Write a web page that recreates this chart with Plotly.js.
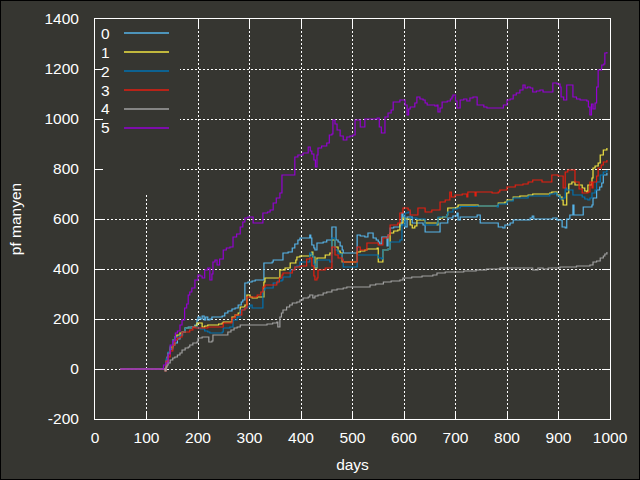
<!DOCTYPE html>
<html>
<head>
<meta charset="utf-8">
<script src="https://cdn.plot.ly/plotly-3.0.1.min.js"></script>
<style>
html,body{margin:0;padding:0;background:#000;}
#chart{width:638px;height:478px;border:1px solid #000;}
</style>
</head>
<body>
<div id="chart"></div>
<script>
// ---- data ----
const seriesNames = ["0","1","2","3","4","5"];
const seriesColors = ["#56b4e9","#f0e442","#0072b2","#e51e10","#a0a0a0","#9400d3"];

const days0 = [49,136,138,140,142,146,151,155,160,165,170,175,181,194,198,200,204,208,212,215,219,223,227,247,252,258,266,272,278,284,287,291,297,305,311,326,328,344,346,363,365,375,383,388,394,398,417,419,421,425,427,431,443,450,456,460,466,468,472,476,480,482,505,509,515,524,530,538,540,546,550,553,557,563,567,569,573,580,592,596,598,602,606,612,616,625,637,641,666,670,683,685,695,703,705,709,742,748,781,783,792,796,806,812,845,849,852,889,897,907,913,916,922,928,930,946,948,965,967,974,980,984,987,994];
const vals0 = [0,0,32,48,64,80,96,104,120,136,148,164,168,176,196,208,200,212,196,208,196,200,208,212,224,232,240,244,256,268,276,344,348,352,356,356,424,428,436,436,464,468,484,500,516,524,536,524,496,484,476,504,508,516,516,568,568,516,508,492,476,464,464,536,532,528,544,544,524,516,508,500,528,528,492,536,564,568,576,624,608,568,608,608,584,584,576,548,548,584,584,604,612,624,596,608,616,584,584,568,564,576,584,596,604,612,600,604,596,568,564,600,616,656,616,616,648,656,684,716,728,744,776,784];

const days1 = [49,136,138,142,146,151,155,159,165,169,175,188,194,198,204,208,213,219,223,240,247,249,262,266,272,278,282,291,295,301,305,311,315,326,328,330,355,359,369,379,390,392,398,417,421,423,427,431,443,447,456,460,466,472,476,480,505,509,515,524,528,548,550,557,559,569,573,580,588,592,598,602,608,612,616,621,625,637,641,664,666,675,683,685,703,705,742,744,781,783,796,800,812,825,841,850,883,887,893,897,903,907,909,913,916,920,926,932,942,946,951,955,957,965,967,971,977,981,987,994];
const vals1 = [0,0,24,64,88,116,128,136,144,148,164,168,172,184,184,168,172,176,176,180,184,188,188,208,216,224,248,256,296,288,284,284,288,288,348,364,364,396,404,424,436,448,452,456,468,448,404,444,444,456,464,516,488,472,464,428,428,468,472,476,480,484,428,428,476,480,544,552,556,584,604,600,600,576,564,572,596,596,584,576,604,608,616,644,648,656,656,652,652,664,668,676,688,692,696,700,704,708,708,696,688,676,656,656,704,740,748,736,736,724,712,708,736,764,804,812,824,856,876,884];

const days2 = [49,136,138,142,146,151,155,165,169,175,188,194,198,204,213,219,223,240,247,249,262,268,276,282,291,295,301,305,324,326,330,344,346,355,363,365,375,379,388,392,398,417,421,425,427,431,456,460,466,472,480,482,505,509,548,550,557,559,569,573,592,596,602,608,612,621,625,637,641,664,666,683,685,695,703,709,742,781,783,800,812,841,883,893,897,903,909,913,916,926,928,942,946,951,957,961,965,971,974,981,987,994];
const vals2 = [0,0,40,68,92,116,128,136,148,164,168,168,164,160,152,148,144,144,148,164,168,196,208,236,244,248,256,244,244,316,324,324,344,352,356,368,368,396,408,412,428,464,452,420,408,436,428,524,476,460,440,408,408,456,456,444,440,476,480,508,516,576,624,628,604,604,600,600,576,584,608,616,628,640,644,650,652,648,660,672,684,692,700,704,692,680,684,724,716,716,696,696,688,680,676,684,704,716,748,776,788,800];

const days3 = [49,136,138,142,146,151,155,160,165,169,181,184,190,194,219,247,249,262,266,272,282,285,291,295,311,315,322,326,330,350,353,358,363,365,379,383,388,398,411,417,421,425,427,431,433,447,456,460,466,472,480,482,505,509,515,524,528,548,550,557,559,569,573,588,592,598,608,612,625,627,637,641,650,654,666,670,676,680,689,692,699,713,722,724,736,738,740,767,771,783,786,800,816,831,841,850,864,868,883,887,897,899,907,909,913,918,928,932,940,946,957,961,965,967,974,977,983,987,994];
const vals3 = [0,-8,32,48,72,96,116,124,128,148,148,156,168,164,168,168,184,184,204,216,216,236,244,288,288,296,308,328,336,336,348,364,376,384,384,396,408,412,440,444,412,372,356,364,396,404,404,488,456,444,436,428,428,488,476,476,504,504,496,496,524,536,576,584,624,644,636,616,616,644,644,628,628,636,636,668,668,676,708,688,696,700,688,708,708,692,708,708,704,708,716,728,736,740,748,756,756,748,748,776,776,772,772,724,788,796,796,748,720,704,708,748,724,748,772,804,816,828,836];

const days4 = [49,136,138,140,142,146,151,155,160,165,169,175,181,184,190,198,200,208,219,221,227,229,256,258,264,270,276,282,330,334,345,353,355,359,362,365,372,378,383,392,398,404,414,417,423,427,433,443,450,460,470,482,489,528,534,545,560,575,592,598,615,635,656,664,680,703,716,740,760,786,845,850,860,870,880,903,920,935,961,967,974,981,987,990,994];
const vals4 = [0,-8,8,16,24,36,44,48,56,64,76,84,88,96,104,108,124,128,128,108,112,136,136,148,156,164,168,176,176,180,184,188,168,208,224,236,248,256,264,268,276,284,288,296,284,292,296,304,308,316,320,324,328,328,336,340,348,352,356,364,368,372,376,384,388,388,392,396,400,404,404,396,404,400,404,408,408,412,416,428,432,444,452,460,468];

const days5 = [49,130,133,137,142,146,151,156,160,165,169,174,178,181,184,188,194,200,204,208,213,219,223,227,229,233,237,242,249,255,262,268,275,282,287,291,297,305,307,320,326,335,340,346,352,359,363,384,388,394,404,411,414,418,421,425,428,431,433,440,450,455,460,462,466,470,476,482,489,495,501,505,511,515,518,524,544,548,552,556,559,563,569,575,579,592,598,602,606,609,612,621,625,631,637,641,645,655,660,664,666,670,674,684,690,693,695,700,703,709,716,722,728,734,742,748,755,761,775,786,793,800,806,812,818,825,831,835,840,845,850,857,864,870,883,889,897,903,905,910,913,916,922,928,935,942,955,958,961,964,967,971,974,977,984,988,990,994];
const vals5 = [0,0,16,24,60,96,112,144,152,176,196,244,260,296,308,324,356,376,372,364,396,404,356,380,428,436,416,440,476,484,488,528,540,568,588,604,608,608,584,584,624,628,636,664,684,704,776,776,848,856,864,864,888,872,860,836,808,856,884,892,904,936,940,996,980,956,932,916,928,932,936,996,996,968,968,1000,1000,1004,968,944,944,1008,1024,1036,1068,1076,1076,1056,1016,1040,1048,1064,1088,1080,1076,1064,1056,1056,1052,1056,1028,1044,1068,1072,1080,1088,1096,1072,1044,1076,1080,1072,1084,1088,1056,1056,1048,1044,1044,1044,1056,1076,1080,1096,1104,1116,1136,1124,1128,1124,1108,1112,1116,1108,1108,1144,1140,1128,1088,1076,1076,1136,1136,1088,1080,1076,1072,1048,1016,1060,1040,1064,1128,1196,1216,1220,1264,1268];

const xTickVals = [0,100,200,300,400,500,600,700,800,900,1000];
const yTickVals = [-200,0,200,400,600,800,1000,1200,1400];
const xTitle = "days";
const yTitle = "pf manyen";

// ---- build ----
const BG = "#363631";
const allDays = [days0,days1,days2,days3,days4,days5];
const allVals = [vals0,vals1,vals2,vals3,vals4,vals5];
const traces = allDays.map((d,i)=>({
  type:"scatter", mode:"lines", x:d, y:allVals[i], name:seriesNames[i],
  line:{color:seriesColors[i], width:1.2, shape:"hv"}, showlegend:false, hoverinfo:"skip"
}));

// gnuplot-style key: label on the left, sample line on the right
const plotH = 400, plotW = 515;
const keyRowsPx = [14,33,52,71,90,109]; // distance from top of plot area
const shapes = [{
  type:"rect", xref:"paper", yref:"paper", layer:"above",
  x0:(103-95)/plotW, x1:(180-95)/plotW, y0:(419-194)/plotH, y1:1,
  fillcolor:BG, line:{width:0}
}];
const annotations = [];
seriesNames.forEach((n,i)=>{
  const yp = 1 - keyRowsPx[i]/plotH;
  shapes.push({type:"line", xref:"paper", yref:"paper", layer:"above",
    x0:(124-95)/plotW, x1:(169-95)/plotW, y0:yp, y1:yp,
    line:{color:seriesColors[i], width:1.5}});
  annotations.push({xref:"paper", yref:"paper", x:(112-95)/plotW, y:yp,
    xanchor:"right", yanchor:"middle", text:n, showarrow:false,
    font:{color:"#ffffff", size:15.5}});
});

const axisCommon = {
  showgrid:true, gridcolor:"#ffffff", griddash:"2px,2px", gridwidth:1,
  showline:true, linecolor:"#ffffff", linewidth:1, mirror:"ticks",
  ticks:"inside", ticklen:8, tickcolor:"#ffffff", tickwidth:1,
  zeroline:false, tickfont:{color:"#ffffff", size:15.5}
};

const layout = {
  width:638, height:478,
  margin:{l:94, r:29, t:18, b:60, pad:0},
  paper_bgcolor:BG, plot_bgcolor:BG,
  font:{family:"Liberation Sans, Arial, sans-serif", size:15.5, color:"#ffffff"},
  showlegend:false,
  xaxis:Object.assign({}, axisCommon, {
    range:[0,1000], tickvals:xTickVals, ticktext:xTickVals.map(String),
    ticklabelstandoff:4,
    title:{text:xTitle, standoff:14, font:{size:15.5, color:"#ffffff"}}
  }),
  yaxis:Object.assign({}, axisCommon, {
    range:[-200,1400], tickvals:yTickVals, ticktext:yTickVals.map(String),
    ticklabelstandoff:12,
    title:{text:yTitle, standoff:18, font:{size:15.5, color:"#ffffff"}}
  }),
  shapes:shapes, annotations:annotations
};

Plotly.newPlot("chart", traces, layout, {staticPlot:true, displayModeBar:false});
</script>
</body>
</html>
